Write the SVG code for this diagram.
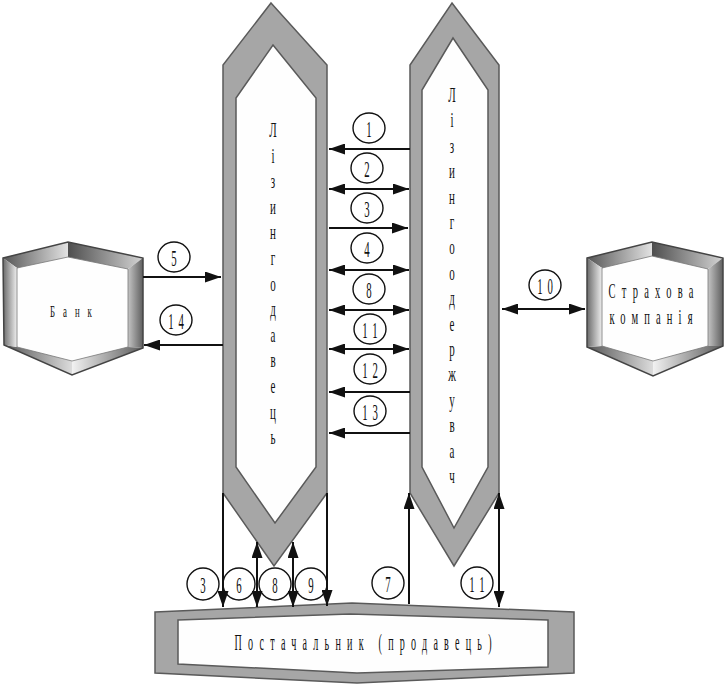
<svg xmlns="http://www.w3.org/2000/svg" width="727" height="688" viewBox="0 0 727 688">
<style>
.bg{fill:#ffffff}
.col{fill:#a6a6a6;stroke:#5a5a5a;stroke-width:1.5;stroke-linejoin:miter}
.inner{fill:#fefefe;stroke:#5a5a5a;stroke-width:1.5}
.edge{fill:none;stroke:#444;stroke-width:1.5;stroke-linejoin:miter}
.t{font-family:"Liberation Serif","DejaVu Serif",serif;fill:#111;text-anchor:middle}
.lt{font-size:22px}
.num{font-size:24px}
.circ{fill:none;stroke:#111;stroke-width:1.4}
.ar{fill:none;stroke:#111;stroke-width:2}
.one{marker-end:url(#ah)}
.two{marker-start:url(#ah);marker-end:url(#ah)}
</style>
<defs>
<marker id="ah" markerUnits="userSpaceOnUse" markerWidth="17" markerHeight="11" refX="16" refY="5.5" orient="auto-start-reverse" viewBox="0 0 17 11">
<path d="M0,0 L16,5.5 L0,11 Z" fill="#111"/>
</marker>
<linearGradient id="gTL" x1="0" y1="0" x2="1" y2="0"><stop offset="0" stop-color="#555"/><stop offset="1" stop-color="#e2e2e2"/></linearGradient>
<linearGradient id="gTR" x1="0" y1="0" x2="1" y2="0"><stop offset="0" stop-color="#4e4e4e"/><stop offset="1" stop-color="#d4d4d4"/></linearGradient>
<linearGradient id="gR" x1="0" y1="0" x2="1" y2="0"><stop offset="0" stop-color="#c4c4c4"/><stop offset="1" stop-color="#5e5e5e"/></linearGradient>
<linearGradient id="gBR" x1="0" y1="0" x2="1" y2="0"><stop offset="0" stop-color="#f2f2f2"/><stop offset="1" stop-color="#5a5a5a"/></linearGradient>
<linearGradient id="gBL" x1="0" y1="0" x2="1" y2="0"><stop offset="0" stop-color="#555"/><stop offset="1" stop-color="#dcdcdc"/></linearGradient>
<linearGradient id="gL" x1="0" y1="0" x2="1" y2="0"><stop offset="0" stop-color="#6a6a6a"/><stop offset="1" stop-color="#eeeeee"/></linearGradient>
</defs>
<rect class="bg" x="0" y="0" width="727" height="688"/>

<g id="lessor">
<polygon class="col" points="271,3 327,65 327,493 274,566 223,493 223,65"/>
<polygon class="inner" points="273,45 316,98 316,467 275,523 236,467 236,98"/>
<text class="t lt" transform="translate(273,137) scale(0.5,1)"><tspan x="0" dy="0">Л</tspan><tspan x="0" dy="25.6">і</tspan><tspan x="0" dy="25.6">з</tspan><tspan x="0" dy="25.6">и</tspan><tspan x="0" dy="25.6">н</tspan><tspan x="0" dy="25.6">г</tspan><tspan x="0" dy="25.6">о</tspan><tspan x="0" dy="25.6">д</tspan><tspan x="0" dy="25.6">а</tspan><tspan x="0" dy="25.6">в</tspan><tspan x="0" dy="25.6">е</tspan><tspan x="0" dy="25.6">ц</tspan><tspan x="0" dy="25.6">ь</tspan></text>
</g>

<g id="lessee">
<polygon class="col" points="452,3 499,65 499,493 454,566 410,493 410,65"/>
<polygon class="inner" points="453,38 488,90 488,467 454,528 422,467 422,90"/>
<text class="t lt" transform="translate(452,102) scale(0.5,1)"><tspan x="0" dy="0">Л</tspan><tspan x="0" dy="25.4">і</tspan><tspan x="0" dy="25.4">з</tspan><tspan x="0" dy="25.4">и</tspan><tspan x="0" dy="25.4">н</tspan><tspan x="0" dy="25.4">г</tspan><tspan x="0" dy="25.4">о</tspan><tspan x="0" dy="25.4">о</tspan><tspan x="0" dy="25.4">д</tspan><tspan x="0" dy="25.4">е</tspan><tspan x="0" dy="25.4">р</tspan><tspan x="0" dy="25.4">ж</tspan><tspan x="0" dy="25.4">у</tspan><tspan x="0" dy="25.4">в</tspan><tspan x="0" dy="25.4">а</tspan><tspan x="0" dy="25.4">ч</tspan></text>
</g>

<g id="bank">
<polygon fill="#fefefe" points="17,268 68,257 128,269 128,347 72,361 17,347"/>
<polygon fill="url(#gTL)" points="3,258 68,242 68,257 17,268"/>
<polygon fill="url(#gTR)" points="68,242 143,258 128,269 68,257"/>
<polygon fill="url(#gR)" points="143,258 143,348 128,347 128,269"/>
<polygon fill="url(#gBR)" points="72,361 128,347 143,348 72,375"/>
<polygon fill="url(#gBL)" points="4,345 17,347 72,361 72,375"/>
<polygon fill="url(#gL)" points="3,258 17,268 17,347 4,345"/>
<polygon class="edge" points="3,258 68,242 143,258 143,348 72,375 4,345"/>
<polygon fill="none" stroke="#777" stroke-width="0.8" points="17,268 68,257 128,269 128,347 72,361 17,347"/>
<text class="t" font-size="16" transform="translate(71,317) scale(0.55,1)" textLength="76" lengthAdjust="spacing">Банк</text>
</g>

<g id="insurer">
<polygon fill="#fefefe" points="602,268 652,256 708,269 708,346 653,361 602,346"/>
<polygon fill="url(#gTL)" points="587,258 652,242 652,256 602,268"/>
<polygon fill="url(#gTR)" points="652,242 723,258 708,269 652,256"/>
<polygon fill="url(#gR)" points="723,258 723,346 708,346 708,269"/>
<polygon fill="url(#gBR)" points="653,361 708,346 723,346 653,376"/>
<polygon fill="url(#gBL)" points="587,347 602,346 653,361 653,376"/>
<polygon fill="url(#gL)" points="587,258 602,268 602,346 587,347"/>
<polygon class="edge" points="587,258 652,242 723,258 723,346 653,376 587,347"/>
<polygon fill="none" stroke="#777" stroke-width="0.8" points="602,268 652,256 708,269 708,346 653,361 602,346"/>
<text class="t" font-size="21" transform="translate(651,298) scale(0.5,1)" textLength="170" lengthAdjust="spacing">Страхова</text>
<text class="t" font-size="21" transform="translate(651,324) scale(0.5,1)" textLength="166" lengthAdjust="spacing">компанія</text>
</g>

<g id="supplier">
<polygon class="col" points="155,612 352,603 574,612 574,673 357,683 155,673"/>
<polygon class="inner" points="178,620 350,614 548,620 548,667 357,673 178,664"/>
<text class="t" font-size="24" transform="translate(363,650) scale(0.42,1)" textLength="612" lengthAdjust="spacing">Постачальник (продавець)</text>
</g>

<g id="labels">
<ellipse class="circ" cx="369" cy="128" rx="16" ry="15"/><text class="t num" transform="translate(369,137) scale(0.45,1)">1</text>
<ellipse class="circ" cx="367" cy="168" rx="16" ry="15"/><text class="t num" transform="translate(367,177) scale(0.45,1)">2</text>
<ellipse class="circ" cx="367" cy="208" rx="16" ry="15"/><text class="t num" transform="translate(367,217) scale(0.45,1)">3</text>
<ellipse class="circ" cx="367" cy="248" rx="16" ry="15"/><text class="t num" transform="translate(367,257) scale(0.45,1)">4</text>
<ellipse class="circ" cx="369" cy="289" rx="16" ry="15"/><text class="t num" transform="translate(369,298) scale(0.45,1)">8</text>
<ellipse class="circ" cx="370" cy="329" rx="16" ry="15"/><text class="t num" letter-spacing="11" transform="translate(372.5,338) scale(0.45,1)">11</text>
<ellipse class="circ" cx="370" cy="369" rx="16" ry="15"/><text class="t num" letter-spacing="11" transform="translate(372.5,378) scale(0.45,1)">12</text>
<ellipse class="circ" cx="370" cy="411" rx="16" ry="15"/><text class="t num" letter-spacing="11" transform="translate(372.5,420) scale(0.45,1)">13</text>
<ellipse class="circ" cx="174" cy="257" rx="16" ry="15"/><text class="t num" transform="translate(174,266) scale(0.45,1)">5</text>
<ellipse class="circ" cx="176" cy="320" rx="16" ry="15"/><text class="t num" letter-spacing="11" transform="translate(178.5,329) scale(0.45,1)">14</text>
<ellipse class="circ" cx="545" cy="285" rx="16" ry="15"/><text class="t num" letter-spacing="11" transform="translate(547.5,294) scale(0.45,1)">10</text>
<ellipse class="circ" cx="203" cy="584" rx="16" ry="16"/><text class="t num" transform="translate(203,593) scale(0.45,1)">3</text>
<ellipse class="circ" cx="239" cy="584" rx="16" ry="16"/><text class="t num" transform="translate(239,593) scale(0.45,1)">6</text>
<ellipse class="circ" cx="275" cy="584" rx="16" ry="16"/><text class="t num" transform="translate(275,593) scale(0.45,1)">8</text>
<ellipse class="circ" cx="311" cy="584" rx="16" ry="16"/><text class="t num" transform="translate(311,593) scale(0.45,1)">9</text>
<ellipse class="circ" cx="388" cy="583" rx="16" ry="16"/><text class="t num" transform="translate(388,592) scale(0.45,1)">7</text>
<ellipse class="circ" cx="477" cy="583" rx="16" ry="16"/><text class="t num" letter-spacing="11" transform="translate(479.5,592) scale(0.45,1)">11</text>
</g>

<g id="connectors">
<line class="ar one" x1="410" y1="149" x2="329" y2="149"/>
<line class="ar two" x1="329" y1="189" x2="409" y2="189"/>
<line class="ar one" x1="329" y1="228" x2="408" y2="228"/>
<line class="ar two" x1="329" y1="270" x2="409" y2="270"/>
<line class="ar two" x1="329" y1="310" x2="409" y2="310"/>
<line class="ar two" x1="329" y1="349" x2="409" y2="349"/>
<line class="ar one" x1="410" y1="392" x2="329" y2="392"/>
<line class="ar one" x1="410" y1="433" x2="329" y2="433"/>
<line class="ar one" x1="143" y1="277" x2="221" y2="277"/>
<line class="ar one" x1="223" y1="345" x2="144" y2="345"/>
<line class="ar two" x1="502" y1="309" x2="585" y2="309"/>
<line class="ar one" x1="223" y1="493" x2="223" y2="607"/>
<line class="ar two" x1="257" y1="542" x2="257" y2="607"/>
<line class="ar two" x1="293" y1="542" x2="293" y2="607"/>
<line class="ar one" x1="327" y1="493" x2="327" y2="606"/>
<line class="ar one" x1="409" y1="604" x2="409" y2="493"/>
<line class="ar two" x1="499" y1="493" x2="499" y2="607"/>
</g>
</svg>
